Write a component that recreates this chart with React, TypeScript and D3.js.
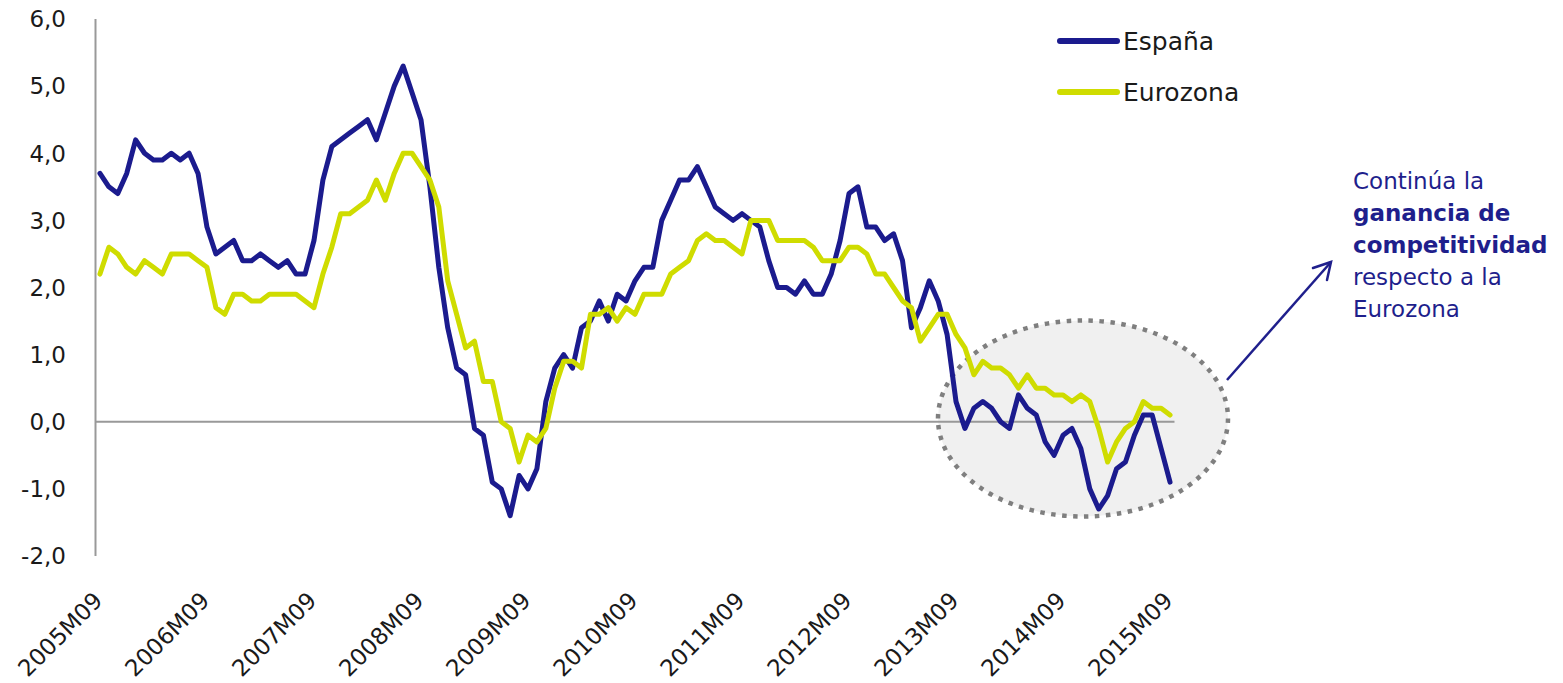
import React from 'react';
import * as d3 from 'd3';

// Inflación interanual (%), serie mensual 2005M09 - 2015M09
const espana = [
  3.7, 3.5, 3.4, 3.7, 4.2, 4.0, 3.9, 3.9, 4.0, 3.9, 4.0, 3.7,
  2.9, 2.5, 2.6, 2.7, 2.4, 2.4, 2.5, 2.4, 2.3, 2.4, 2.2, 2.2,
  2.7, 3.6, 4.1, 4.2, 4.3, 4.4, 4.5, 4.2, 4.6, 5.0, 5.3, 4.9,
  4.5, 3.5, 2.3, 1.4, 0.8, 0.7, -0.1, -0.2, -0.9, -1.0, -1.4, -0.8,
  -1.0, -0.7, 0.3, 0.8, 1.0, 0.8, 1.4, 1.5, 1.8, 1.5, 1.9, 1.8,
  2.1, 2.3, 2.3, 3.0, 3.3, 3.6, 3.6, 3.8, 3.5, 3.2, 3.1, 3.0,
  3.1, 3.0, 2.9, 2.4, 2.0, 2.0, 1.9, 2.1, 1.9, 1.9, 2.2, 2.7,
  3.4, 3.5, 2.9, 2.9, 2.7, 2.8, 2.4, 1.4, 1.7, 2.1, 1.8, 1.3,
  0.3, -0.1, 0.2, 0.3, 0.2, 0.0, -0.1, 0.4, 0.2, 0.1, -0.3, -0.5,
  -0.2, -0.1, -0.4, -1.0, -1.3, -1.1, -0.7, -0.6, -0.2, 0.1, 0.1, -0.4,
  -0.9,
];

const eurozona = [
  2.2, 2.6, 2.5, 2.3, 2.2, 2.4, 2.3, 2.2, 2.5, 2.5, 2.5, 2.4,
  2.3, 1.7, 1.6, 1.9, 1.9, 1.8, 1.8, 1.9, 1.9, 1.9, 1.9, 1.8,
  1.7, 2.2, 2.6, 3.1, 3.1, 3.2, 3.3, 3.6, 3.3, 3.7, 4.0, 4.0,
  3.8, 3.6, 3.2, 2.1, 1.6, 1.1, 1.2, 0.6, 0.6, 0.0, -0.1, -0.6,
  -0.2, -0.3, -0.1, 0.5, 0.9, 0.9, 0.8, 1.6, 1.6, 1.7, 1.5, 1.7,
  1.6, 1.9, 1.9, 1.9, 2.2, 2.3, 2.4, 2.7, 2.8, 2.7, 2.7, 2.6,
  2.5, 3.0, 3.0, 3.0, 2.7, 2.7, 2.7, 2.7, 2.6, 2.4, 2.4, 2.4,
  2.6, 2.6, 2.5, 2.2, 2.2, 2.0, 1.8, 1.7, 1.2, 1.4, 1.6, 1.6,
  1.3, 1.1, 0.7, 0.9, 0.8, 0.8, 0.7, 0.5, 0.7, 0.5, 0.5, 0.4,
  0.4, 0.3, 0.4, 0.3, -0.1, -0.6, -0.3, -0.1, 0.0, 0.3, 0.2, 0.2,
  0.1,
];

const yTicks = [6, 5, 4, 3, 2, 1, 0, -1, -2];
const xTickLabels = [
  '2005M09', '2006M09', '2007M09', '2008M09', '2009M09', '2010M09',
  '2011M09', '2012M09', '2013M09', '2014M09', '2015M09',
];

const series = [
  { name: 'España', values: espana, color: '#1b1b8e' },
  { name: 'Eurozona', values: eurozona, color: '#cfdc00' },
];

const W = 1563;
const H = 683;
const FONT = '"DejaVu Sans", Verdana, sans-serif';
const NAVY = '#1f1f8c';

const App = () => {
  const x = d3
    .scalePoint<number>()
    .domain(d3.range(espana.length))
    .range([95.5, 1174.5])
    .padding(0.5);
  const y = d3.scaleLinear().domain([-2, 6]).range([556, 19]);

  const line = d3
    .line<number>()
    .x((_, i) => x(i) as number)
    .y((d) => y(d));

  const fmt = (v: number) => v.toFixed(1).replace('.', ',');

  return (
    <svg
      width={W}
      height={H}
      style={{ position: 'absolute', left: 0, top: 0, background: '#fff' }}
    >
      {/* zona destacada */}
      <ellipse
        cx={1083}
        cy={418.5}
        rx={145}
        ry={98}
        fill="#f0f0f0"
        stroke="#7f7f7f"
        strokeWidth={4.5}
        strokeDasharray="4.5 6.5"
      />

      {/* ejes */}
      <line x1={95.5} x2={95.5} y1={y(6)} y2={y(-2)} stroke="#999" strokeWidth={2} />
      <line x1={95.5} x2={1174.5} y1={y(0)} y2={y(0)} stroke="#999" strokeWidth={2} />

      {yTicks.map((t) => (
        <text
          key={t}
          x={66}
          y={y(t)}
          dy="0.36em"
          textAnchor="end"
          fontFamily={FONT}
          fontSize={23}
          fill="#1a1a1a"
        >
          {fmt(t)}
        </text>
      ))}

      {xTickLabels.map((lab, k) => {
        const px = x(k * 12) as number;
        return (
          <text
            key={lab}
            transform={`translate(${px + 4},602) rotate(-45)`}
            textAnchor="end"
            fontFamily={FONT}
            fontSize={23}
            fill="#1a1a1a"
          >
            {lab}
          </text>
        );
      })}

      {/* series */}
      {series.map((s) => (
        <path
          key={s.name}
          d={line(s.values) || ''}
          fill="none"
          stroke={s.color}
          strokeWidth={5}
          strokeLinejoin="round"
          strokeLinecap="round"
        />
      ))}

      {/* leyenda */}
      {series.map((s, i) => (
        <g key={s.name} transform={`translate(0,${41 + i * 51})`}>
          <line x1={1060} x2={1117} y1={0} y2={0} stroke={s.color} strokeWidth={6} strokeLinecap="round" />
          <text x={1123} y={9} fontFamily={FONT} fontSize={25} fill="#1a1a1a">
            {s.name}
          </text>
        </g>
      ))}

      {/* anotación */}
      <g fontFamily={FONT} fontSize={23} fill={NAVY}>
        <text x={1353} y={189}>Continúa la</text>
        <text x={1353} y={221} fontWeight="bold">ganancia de</text>
        <text x={1353} y={253} fontWeight="bold">competitividad</text>
        <text x={1353} y={285}>respecto a la</text>
        <text x={1353} y={317}>Eurozona</text>
      </g>
      <line x1={1227} y1={380} x2={1331} y2={262} stroke={NAVY} strokeWidth={2.5} />
      <path d="M1313,268 L1331,262 L1327,280" fill="none" stroke={NAVY} strokeWidth={2.5} strokeLinecap="round" />
    </svg>
  );
};

export default App;
